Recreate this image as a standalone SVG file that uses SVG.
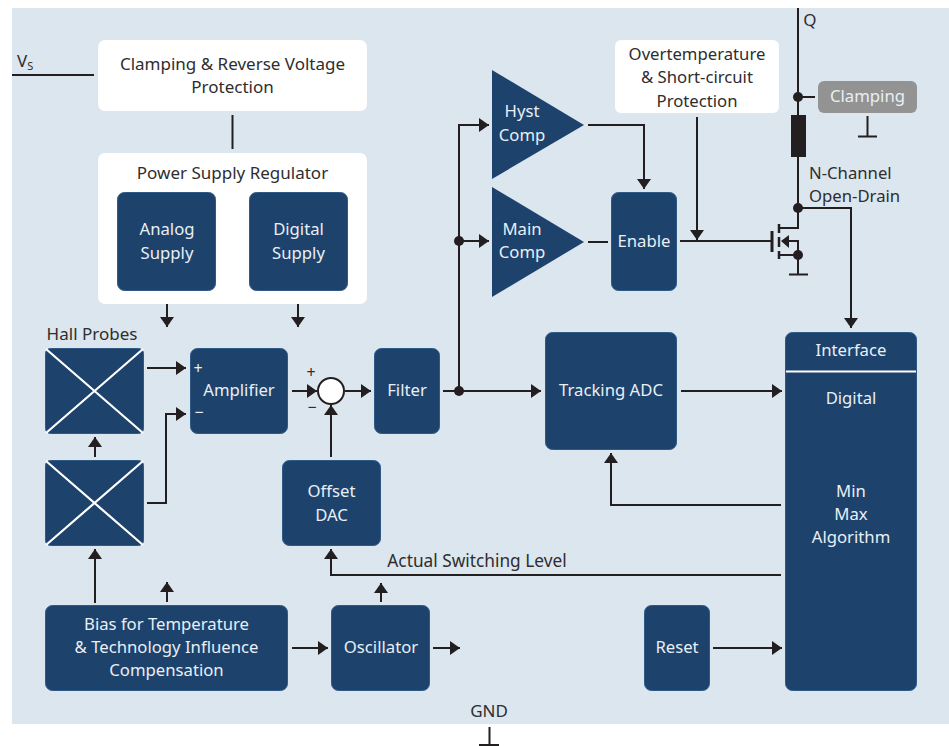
<svg xmlns="http://www.w3.org/2000/svg" width="949" height="746" viewBox="0 0 949 746">
<style>
text{font-family:"Noto Sans","Liberation Sans",sans-serif;font-size:17px;text-anchor:middle;fill:#2f2d2e}
text.w{fill:#e9eff5;font-size:16.700px}
.b{fill:#1d426c;stroke:#2f5a88;stroke-width:1}
.p{fill:#fff}
.l{fill:none;stroke:#231f20;stroke-width:2}
.a{marker-end:url(#ah)}
.x{stroke:#fff;stroke-width:2.2;fill:none}
.d{fill:#231f20}
text.s{font-size:16px}
</style>
<defs><marker id="ah" markerUnits="userSpaceOnUse" markerWidth="11" markerHeight="15" refX="10" refY="7" orient="auto"><path d="M0,0L10,7L0,14Z" fill="#231f20"/></marker></defs>
<rect x="12" y="8" width="937" height="716" fill="#dce6ef"/>
<g id="connectors">
<path class="l" d="M12,75H94"/>
<path class="l" d="M232.500,115V149"/>
<path class="l a" d="M167,294V327"/>
<path class="l a" d="M298,294V327"/>
<path class="l a" d="M147,368H186"/>
<path class="l a" d="M147,503H166V414H186"/>
<path class="l a" d="M95,457V437"/>
<path class="l a" d="M95,603V549"/>
<path class="l a" d="M292,391H317"/>
<path class="l a" d="M345,391H371"/>
<path class="l a" d="M443,391H541"/>
<path class="l a" d="M459,391V125H489"/>
<path class="l a" d="M459,241H489"/>
<path class="l a" d="M331,457V405"/>
<path class="l a" d="M781,575H331V549"/>
<path class="l a" d="M167,602V582"/>
<path class="l a" d="M381,602V583"/>
<path class="l a" d="M292,648H328"/>
<path class="l a" d="M433,648H460"/>
<path class="l a" d="M713,648H782"/>
<path class="l a" d="M681,391H782"/>
<path class="l a" d="M781,505H611V453"/>
<path class="l a" d="M588,125H644V189"/>
<path class="l" d="M588,242H608"/>
<path class="l" d="M680,241H772"/>
<path class="l a" d="M697,117V240"/>
<path class="l" d="M798,8V208"/>
<path class="l" d="M798,97H815"/>
<path class="l" d="M867.500,116V136M858,136.500H877"/>
<path class="l a" d="M798,208H851V328"/>
<path class="l" d="M772,231V252" style="stroke-width:3"/>
<path class="l" d="M779,224V233M779,237V247M779,251V259" style="stroke-width:2.500"/>
<path class="l" d="M779,228H798V208M779,255H798M786,241H798V274M789,274.500H808"/>
<path class="d" d="M781,241L789,235V248Z"/>
<circle class="d" cx="459" cy="391" r="5"/>
<circle class="d" cx="459" cy="241" r="5"/>
<circle class="d" cx="798" cy="97" r="5"/>
<circle class="d" cx="798" cy="208" r="5"/>
<circle class="d" cx="798" cy="255" r="5"/>
<rect class="d" x="791" y="115" width="15" height="42"/>
<path class="l" d="M489.500,727V745M479,745H499"/>
</g>
<g id="vs"><text x="17" y="67" style="text-anchor:start">V<tspan font-size="11" dy="3">S</tspan></text></g>
<g id="q"><text x="810" y="26">Q</text></g>
<g id="gnd"><text x="489" y="717">GND</text></g>
<g id="clamp-prot"><rect class="p" x="98" y="40" width="269" height="71" rx="7"/><text x="232.500" y="70">Clamping &amp; Reverse Voltage</text><text x="232.500" y="93">Protection</text></g>
<g id="psr"><rect class="p" x="98" y="153" width="269" height="151" rx="7"/><text x="232.500" y="179">Power Supply Regulator</text></g>
<g id="analog"><rect class="b" x="117.500" y="192.500" width="98" height="98" rx="7"/><text class="w" x="167" y="235">Analog</text><text class="w" x="167" y="259">Supply</text></g>
<g id="digital"><rect class="b" x="249.500" y="192.500" width="98" height="98" rx="7"/><text class="w" x="298.500" y="235">Digital</text><text class="w" x="298.500" y="259">Supply</text></g>
<g id="hall-label"><text x="92" y="340">Hall Probes</text></g>
<g id="hall1"><rect class="b" x="45.500" y="348.500" width="98" height="85" rx="5"/><path class="x" d="M46,349L143,433M143,349L46,433"/></g>
<g id="hall2"><rect class="b" x="45.500" y="460.500" width="98" height="85" rx="5"/><path class="x" d="M46,461L143,545M143,461L46,545"/></g>
<g id="amp"><rect class="b" x="190.500" y="348.500" width="97" height="85" rx="7"/><text class="w" x="239" y="396">Amplifier</text><text class="w s" x="198" y="374">+</text><text class="w s" x="199" y="418">−</text></g>
<g id="sum"><circle cx="331" cy="391" r="13" fill="#fff" stroke="#231f20" stroke-width="2"/><text class="s" x="311" y="378">+</text><text class="s" x="312" y="413">−</text></g>
<g id="filter"><rect class="b" x="374.500" y="348.500" width="65" height="85" rx="7"/><text class="w" x="407" y="396">Filter</text></g>
<g id="dac"><rect class="b" x="282.500" y="460.500" width="98" height="85" rx="7"/><text class="w" x="331.500" y="497">Offset</text><text class="w" x="331.500" y="521">DAC</text></g>
<g id="label-asl"><text x="477" y="567" style="font-size:17.300px">Actual Switching Level</text></g>
<g id="bias"><rect class="b" x="45.500" y="605.500" width="242" height="85" rx="7"/><text class="w" x="166.500" y="630">Bias for Temperature</text><text class="w" x="166.500" y="653">&amp; Technology Influence</text><text class="w" x="166.500" y="676">Compensation</text></g>
<g id="osc"><rect class="b" x="331.500" y="605.500" width="98" height="85" rx="7"/><text class="w" x="381" y="653">Oscillator</text></g>
<g id="reset"><rect class="b" x="644.500" y="605.500" width="65" height="85" rx="7"/><text class="w" x="677" y="653">Reset</text></g>
<g id="adc"><rect class="b" x="545.500" y="332.500" width="131" height="117" rx="7"/><text class="w" x="611" y="396">Tracking ADC</text></g>
<g id="interface"><rect class="b" x="785.500" y="332.500" width="131" height="358" rx="7"/><path d="M786,371.500H916" stroke="#fff" stroke-width="2"/><text class="w" x="851" y="356">Interface</text><text class="w" x="851" y="404">Digital</text><text class="w" x="851" y="497">Min</text><text class="w" x="851" y="520">Max</text><text class="w" x="851" y="543">Algorithm</text></g>
<g id="hyst"><path d="M492,70V179L584,125Z" fill="#1d426c"/><text class="w" x="522" y="117">Hyst</text><text class="w" x="522" y="141">Comp</text></g>
<g id="main"><path d="M492,187V297L584,242Z" fill="#1d426c"/><text class="w" x="522" y="235">Main</text><text class="w" x="522" y="258">Comp</text></g>
<g id="enable"><rect class="b" x="611.500" y="192.500" width="65" height="98" rx="7"/><text class="w" x="644" y="247">Enable</text></g>
<g id="over"><rect class="p" x="615" y="40" width="164" height="73" rx="6"/><text x="697" y="60" style="font-size:16.700px">Overtemperature</text><text x="697" y="83" style="font-size:16.700px">&amp; Short-circuit</text><text x="697" y="107" style="font-size:16.700px">Protection</text></g>
<g id="clamping"><rect x="818" y="81" width="99" height="32" rx="6" fill="#939393"/><text class="w" x="867.500" y="102">Clamping</text></g>
<g id="nch"><text x="809" y="179" style="text-anchor:start;font-size:16.700px">N-Channel</text><text x="809" y="202" style="text-anchor:start;font-size:16.700px">Open-Drain</text></g>
</svg>
